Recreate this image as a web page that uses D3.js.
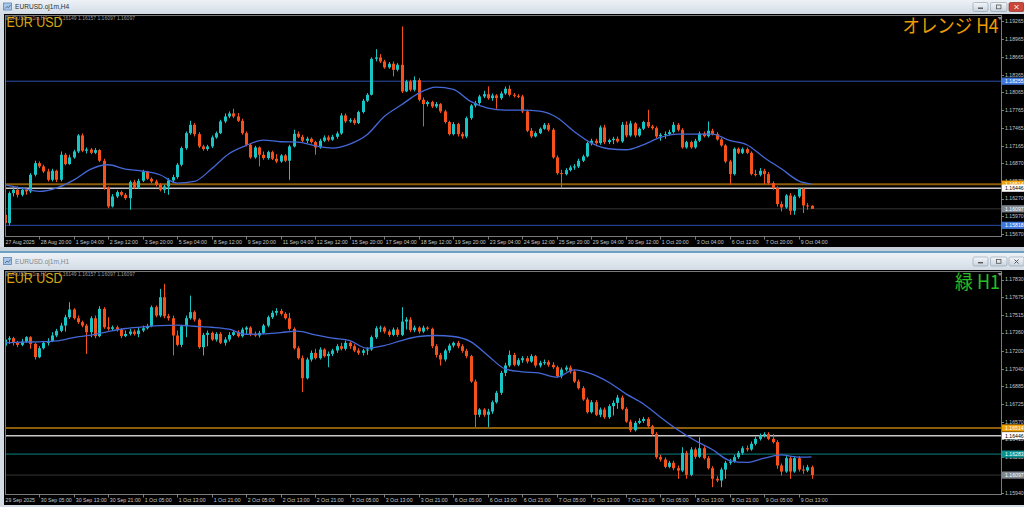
<!DOCTYPE html>
<html><head><meta charset="utf-8">
<script src="https://cdn.jsdelivr.net/npm/d3@7"></script>
<style>html,body{margin:0;padding:0;background:#d3dbe5;overflow:hidden}svg{display:block}</style>
</head><body><svg id="c" width="1024" height="507"></svg>
<script>
// ---------------- DATA: H4 (top) ----------------
const h4Open=[1.15996,1.15855,1.16363,1.16419,1.16334,1.16419,1.16391,1.16673,1.16870,1.16814,1.16729,1.16588,1.16740,1.16588,1.17011,1.16853,1.16966,1.17067,1.17338,1.17079,1.17101,1.17044,1.17090,1.16910,1.16447,1.16137,1.16306,1.16380,1.16334,1.16278,1.16549,1.16459,1.16571,1.16729,1.16605,1.16560,1.16504,1.16419,1.16476,1.16577,1.16634,1.16842,1.17124,1.17377,1.17518,1.17360,1.17152,1.17107,1.17152,1.17304,1.17377,1.17575,1.17659,1.17710,1.17659,1.17586,1.17377,1.17180,1.16966,1.17135,1.17011,1.16955,1.17056,1.16944,1.16898,1.17000,1.16910,1.17152,1.17366,1.17315,1.17248,1.17282,1.17225,1.17135,1.17248,1.17304,1.17265,1.17315,1.17371,1.17676,1.17575,1.17597,1.17547,1.17733,1.17924,1.18025,1.18634,1.18657,1.18589,1.18488,1.18550,1.18448,1.18533,1.18082,1.18251,1.18110,1.18273,1.17941,1.17868,1.17902,1.17828,1.17868,1.17744,1.17564,1.17360,1.17530,1.17360,1.17321,1.17631,1.17845,1.17885,1.17997,1.18036,1.17969,1.18014,1.17969,1.18048,1.18127,1.18025,1.18008,1.17997,1.17744,1.17417,1.17321,1.17377,1.17451,1.17518,1.17434,1.16966,1.16701,1.16684,1.16751,1.16797,1.16814,1.16910,1.16983,1.17208,1.17248,1.17208,1.17473,1.17225,1.17259,1.17282,1.17236,1.17518,1.17338,1.17541,1.17338,1.17451,1.17564,1.17490,1.17462,1.17321,1.17349,1.17360,1.17394,1.17518,1.17434,1.17135,1.17225,1.17135,1.17248,1.17371,1.17326,1.17417,1.17360,1.17270,1.17169,1.16898,1.16684,1.17113,1.17044,1.17107,1.17044,1.16684,1.16673,1.16740,1.16684,1.16532,1.16447,1.16177,1.16120,1.16323,1.16064,1.16306,1.16436,1.16154,1.16149];
const h4High=[1.16025,1.16391,1.16476,1.16476,1.16459,1.16447,1.16701,1.16910,1.16898,1.16842,1.16774,1.16774,1.16757,1.17067,1.17039,1.17011,1.17096,1.17360,1.17371,1.17135,1.17124,1.17124,1.17107,1.16944,1.16476,1.16345,1.16408,1.16402,1.16363,1.16577,1.16588,1.16605,1.16757,1.16740,1.16628,1.16588,1.16532,1.16504,1.16616,1.16673,1.16870,1.17152,1.17405,1.17586,1.17547,1.17394,1.17180,1.17180,1.17338,1.17405,1.17603,1.17710,1.17744,1.17789,1.17716,1.17620,1.17405,1.17208,1.17163,1.17152,1.17067,1.17079,1.17079,1.17022,1.17022,1.17022,1.17180,1.17434,1.17405,1.17349,1.17315,1.17304,1.17248,1.17282,1.17338,1.17338,1.17349,1.17405,1.17716,1.17710,1.17631,1.17631,1.17755,1.17958,1.18054,1.18657,1.18797,1.18713,1.18617,1.18578,1.18589,1.18561,1.19181,1.18279,1.18279,1.18336,1.18307,1.17980,1.17924,1.17924,1.17902,1.17885,1.17772,1.17586,1.17564,1.17552,1.17394,1.17659,1.17868,1.17924,1.18025,1.18093,1.18166,1.18048,1.18036,1.18082,1.18166,1.18183,1.18054,1.18036,1.18025,1.17772,1.17462,1.17405,1.17473,1.17547,1.17547,1.17462,1.17000,1.16757,1.16785,1.16831,1.16853,1.16944,1.17011,1.17236,1.17282,1.17282,1.17507,1.17518,1.17282,1.17315,1.17321,1.17564,1.17575,1.17586,1.17564,1.17473,1.17586,1.17772,1.17518,1.17490,1.17377,1.17405,1.17434,1.17564,1.17547,1.17462,1.17248,1.17248,1.17282,1.17405,1.17405,1.17575,1.17451,1.17394,1.17293,1.17191,1.16927,1.17135,1.17135,1.17135,1.17135,1.17067,1.16757,1.16785,1.16774,1.16718,1.16560,1.16476,1.16222,1.16345,1.16363,1.16334,1.16459,1.16459,1.16194,1.16157];
const h4Low=[1.15799,1.15816,1.16306,1.16289,1.16306,1.16334,1.16363,1.16645,1.16785,1.16701,1.16560,1.16560,1.16549,1.16560,1.16831,1.16842,1.16944,1.17039,1.17056,1.17033,1.17022,1.17022,1.16887,1.16419,1.16109,1.16120,1.16278,1.16306,1.16250,1.16081,1.16436,1.16436,1.16549,1.16588,1.16532,1.16476,1.16391,1.16363,1.16334,1.16549,1.16605,1.16814,1.17096,1.17349,1.17321,1.17124,1.17079,1.17079,1.17124,1.17282,1.17360,1.17547,1.17631,1.17631,1.17564,1.17349,1.17152,1.16944,1.16944,1.16814,1.16927,1.16927,1.16921,1.16870,1.16875,1.16887,1.16588,1.17135,1.17293,1.17225,1.17208,1.17202,1.17011,1.17113,1.17225,1.17236,1.17248,1.17282,1.17349,1.17547,1.17552,1.17518,1.17530,1.17710,1.17902,1.18014,1.18589,1.18561,1.18465,1.18465,1.18336,1.18420,1.18054,1.18071,1.18082,1.18082,1.17913,1.17490,1.17828,1.17800,1.17800,1.17716,1.17541,1.17338,1.17338,1.17321,1.17282,1.17293,1.17603,1.17811,1.17856,1.17969,1.17941,1.17924,1.17789,1.17941,1.18025,1.17997,1.17980,1.17969,1.17716,1.17394,1.17293,1.17304,1.17360,1.17434,1.17405,1.16944,1.16673,1.16447,1.16662,1.16729,1.16757,1.16785,1.16887,1.16966,1.17169,1.17180,1.17180,1.17191,1.17191,1.17191,1.17213,1.17213,1.17304,1.17315,1.17304,1.17315,1.17428,1.17462,1.17434,1.17293,1.17248,1.17282,1.17338,1.17371,1.17405,1.17113,1.17113,1.17113,1.17113,1.17225,1.17304,1.17304,1.17338,1.17248,1.17146,1.16870,1.16504,1.16662,1.17022,1.17022,1.17022,1.16662,1.16645,1.16645,1.16515,1.16504,1.16419,1.16137,1.16053,1.16098,1.15996,1.15996,1.16278,1.16025,1.16081,1.16097];
const h4Close=[1.15855,1.16363,1.16419,1.16334,1.16419,1.16391,1.16673,1.16870,1.16814,1.16729,1.16588,1.16740,1.16588,1.17011,1.16853,1.16966,1.17067,1.17338,1.17079,1.17101,1.17044,1.17090,1.16910,1.16447,1.16137,1.16306,1.16380,1.16334,1.16278,1.16549,1.16459,1.16571,1.16729,1.16605,1.16560,1.16504,1.16419,1.16476,1.16577,1.16634,1.16842,1.17124,1.17377,1.17518,1.17360,1.17152,1.17107,1.17152,1.17304,1.17377,1.17575,1.17659,1.17710,1.17659,1.17586,1.17377,1.17180,1.16966,1.17135,1.17011,1.16955,1.17056,1.16944,1.16898,1.17000,1.16910,1.17152,1.17366,1.17315,1.17248,1.17282,1.17225,1.17135,1.17248,1.17304,1.17265,1.17315,1.17371,1.17676,1.17575,1.17597,1.17547,1.17733,1.17924,1.18025,1.18634,1.18657,1.18589,1.18488,1.18550,1.18448,1.18533,1.18082,1.18251,1.18110,1.18273,1.17941,1.17868,1.17902,1.17828,1.17868,1.17744,1.17564,1.17360,1.17530,1.17360,1.17321,1.17631,1.17845,1.17885,1.17997,1.18036,1.17969,1.18014,1.17969,1.18048,1.18127,1.18025,1.18008,1.17997,1.17744,1.17417,1.17321,1.17377,1.17451,1.17518,1.17434,1.16966,1.16701,1.16684,1.16751,1.16797,1.16814,1.16910,1.16983,1.17208,1.17248,1.17208,1.17473,1.17225,1.17259,1.17282,1.17236,1.17518,1.17338,1.17541,1.17338,1.17451,1.17564,1.17490,1.17462,1.17321,1.17349,1.17360,1.17394,1.17518,1.17434,1.17135,1.17225,1.17135,1.17248,1.17371,1.17326,1.17417,1.17360,1.17270,1.17169,1.16898,1.16684,1.17113,1.17044,1.17107,1.17044,1.16684,1.16673,1.16740,1.16684,1.16532,1.16447,1.16177,1.16120,1.16323,1.16064,1.16306,1.16436,1.16154,1.16149,1.16097];
// moving average read every 4th bar (last sample = last bar)
const h4MA=[1.16504,1.16447,1.16391,1.16447,1.16582,1.16768,1.16842,1.16768,1.16735,1.16673,1.16532,1.16560,1.16774,1.17028,1.17169,1.17259,1.17231,1.17225,1.17163,1.17124,1.17191,1.17349,1.17659,1.17856,1.18054,1.18155,1.18115,1.17913,1.17800,1.17766,1.17766,1.17749,1.17642,1.17405,1.17208,1.17113,1.17096,1.17180,1.17304,1.17360,1.17360,1.17360,1.17253,1.17180,1.16966,1.16774,1.16571,1.16515];
const h4PriceTicks=["1.19265","1.18965","1.18665","1.18365","1.18065","1.17765","1.17465","1.17165","1.16870","1.16570","1.16270","1.15970","1.15670"];
const h4TimeTicks=["27 Aug 2025","28 Aug 20:00","1 Sep 04:00","2 Sep 12:00","3 Sep 20:00","5 Sep 04:00","8 Sep 12:00","9 Sep 20:00","11 Sep 04:00","12 Sep 12:00","15 Sep 20:00","17 Sep 04:00","18 Sep 12:00","19 Sep 20:00","23 Sep 04:00","24 Sep 12:00","25 Sep 20:00","29 Sep 04:00","30 Sep 12:00","1 Oct 20:00","3 Oct 04:00","6 Oct 12:00","7 Oct 20:00","9 Oct 04:00"];
const h4Levels=[1.18255,1.16514,1.16446,1.16097,1.15818];
const h4LevelKinds=["blue","orange","white","bid","blue"];

// ---------------- DATA: H1 (bottom) ----------------
const h1Open=[1.17245,1.17298,1.17310,1.17269,1.17251,1.17280,1.17319,1.17260,1.17142,1.17221,1.17269,1.17286,1.17334,1.17375,1.17422,1.17496,1.17564,1.17487,1.17452,1.17422,1.17363,1.17487,1.17328,1.17570,1.17407,1.17393,1.17407,1.17387,1.17328,1.17348,1.17369,1.17348,1.17378,1.17398,1.17416,1.17585,1.17511,1.17673,1.17505,1.17487,1.17334,1.17251,1.17416,1.17487,1.17541,1.17475,1.17230,1.17339,1.17357,1.17298,1.17348,1.17269,1.17298,1.17339,1.17363,1.17328,1.17387,1.17404,1.17348,1.17334,1.17357,1.17422,1.17496,1.17535,1.17552,1.17526,1.17487,1.17393,1.17221,1.17133,1.16955,1.17121,1.17180,1.17133,1.17210,1.17151,1.17171,1.17201,1.17239,1.17216,1.17269,1.17239,1.17201,1.17180,1.17201,1.17210,1.17319,1.17398,1.17404,1.17369,1.17339,1.17387,1.17339,1.17457,1.17475,1.17381,1.17404,1.17369,1.17404,1.17393,1.17239,1.17162,1.17121,1.17201,1.17245,1.17269,1.17239,1.17198,1.17151,1.16926,1.16631,1.16678,1.16631,1.16660,1.16743,1.16826,1.17003,1.17068,1.17162,1.17074,1.17115,1.17133,1.17103,1.17151,1.17068,1.17092,1.17098,1.17074,1.17053,1.16973,1.17032,1.17050,1.17015,1.16926,1.16867,1.16767,1.16654,1.16743,1.16631,1.16678,1.16610,1.16708,1.16737,1.16784,1.16684,1.16571,1.16495,1.16560,1.16577,1.16595,1.16530,1.16462,1.16256,1.16235,1.16170,1.16206,1.16158,1.16137,1.16294,1.16099,1.16324,1.16259,1.16335,1.16247,1.16158,1.16064,1.16049,1.16146,1.16206,1.16217,1.16256,1.16294,1.16335,1.16324,1.16374,1.16418,1.16448,1.16460,1.16418,1.16389,1.16182,1.16128,1.16247,1.16128,1.16247,1.16146,1.16137,1.16167];
const h1High=[1.17319,1.17328,1.17322,1.17286,1.17304,1.17328,1.17328,1.17269,1.17239,1.17286,1.17310,1.17363,1.17393,1.17446,1.17517,1.17629,1.17576,1.17511,1.17466,1.17437,1.17505,1.17511,1.17594,1.17585,1.17496,1.17422,1.17422,1.17398,1.17378,1.17393,1.17387,1.17407,1.17422,1.17437,1.17600,1.17600,1.17747,1.17792,1.17526,1.17511,1.17378,1.17428,1.17511,1.17688,1.17555,1.17487,1.17357,1.17378,1.17369,1.17363,1.17363,1.17319,1.17363,1.17375,1.17381,1.17404,1.17416,1.17416,1.17369,1.17375,1.17437,1.17511,1.17555,1.17576,1.17570,1.17541,1.17535,1.17407,1.17239,1.17157,1.17139,1.17201,1.17216,1.17230,1.17221,1.17192,1.17216,1.17257,1.17269,1.17289,1.17280,1.17257,1.17221,1.17216,1.17230,1.17334,1.17416,1.17422,1.17416,1.17387,1.17404,1.17407,1.17585,1.17496,1.17496,1.17422,1.17416,1.17422,1.17416,1.17404,1.17257,1.17180,1.17216,1.17263,1.17280,1.17286,1.17257,1.17216,1.17162,1.16944,1.16690,1.16690,1.16684,1.16758,1.16843,1.17020,1.17092,1.17201,1.17180,1.17133,1.17151,1.17151,1.17168,1.17162,1.17110,1.17121,1.17115,1.17098,1.17068,1.17050,1.17068,1.17068,1.17032,1.16944,1.16885,1.16784,1.16761,1.16761,1.16696,1.16696,1.16725,1.16758,1.16808,1.16802,1.16699,1.16589,1.16577,1.16601,1.16613,1.16610,1.16542,1.16477,1.16276,1.16253,1.16223,1.16223,1.16182,1.16344,1.16312,1.16344,1.16341,1.16433,1.16353,1.16265,1.16176,1.16087,1.16164,1.16223,1.16241,1.16276,1.16312,1.16353,1.16359,1.16394,1.16436,1.16465,1.16477,1.16477,1.16462,1.16406,1.16200,1.16265,1.16265,1.16265,1.16265,1.16182,1.16188,1.16182];
const h1Low=[1.17216,1.17260,1.17245,1.17230,1.17239,1.17269,1.17216,1.17121,1.17133,1.17210,1.17245,1.17275,1.17319,1.17363,1.17369,1.17481,1.17475,1.17437,1.17407,1.17171,1.17319,1.17310,1.17319,1.17393,1.17378,1.17378,1.17369,1.17310,1.17319,1.17334,1.17334,1.17319,1.17363,1.17387,1.17407,1.17496,1.17496,1.17487,1.17466,1.17157,1.17239,1.17230,1.17319,1.17475,1.17457,1.17216,1.17157,1.17239,1.17286,1.17280,1.17257,1.17245,1.17280,1.17328,1.17316,1.17316,1.17348,1.17328,1.17322,1.17316,1.17345,1.17407,1.17481,1.17511,1.17511,1.17475,1.17378,1.17210,1.17121,1.16832,1.16944,1.17103,1.17121,1.17121,1.17139,1.17053,1.17151,1.17180,1.17201,1.17201,1.17216,1.17186,1.17162,1.17157,1.17162,1.17198,1.17304,1.17363,1.17351,1.17322,1.17328,1.17322,1.17328,1.17387,1.17363,1.17363,1.17351,1.17357,1.17378,1.17221,1.17139,1.17068,1.17103,1.17180,1.17227,1.17221,1.17180,1.17133,1.16914,1.16522,1.16610,1.16613,1.16522,1.16639,1.16731,1.16808,1.16973,1.17053,1.17062,1.17062,1.17092,1.17086,1.17092,1.17050,1.17050,1.17074,1.17056,1.17038,1.16961,1.16955,1.17015,1.16997,1.16914,1.16855,1.16755,1.16642,1.16642,1.16619,1.16610,1.16595,1.16595,1.16625,1.16684,1.16672,1.16560,1.16477,1.16483,1.16548,1.16560,1.16518,1.16448,1.16241,1.16217,1.16158,1.16158,1.16140,1.16064,1.16123,1.16064,1.16087,1.16241,1.16247,1.16235,1.16146,1.15990,1.16034,1.15990,1.16064,1.16188,1.16206,1.16241,1.16276,1.16306,1.16312,1.16359,1.16403,1.16430,1.16406,1.16377,1.16152,1.16093,1.16117,1.16064,1.16117,1.16128,1.16108,1.16123,1.16064];
const h1Close=[1.17298,1.17310,1.17269,1.17251,1.17280,1.17319,1.17260,1.17142,1.17221,1.17269,1.17286,1.17334,1.17375,1.17422,1.17496,1.17564,1.17487,1.17452,1.17422,1.17363,1.17487,1.17328,1.17570,1.17407,1.17393,1.17407,1.17387,1.17328,1.17348,1.17369,1.17348,1.17378,1.17398,1.17416,1.17585,1.17511,1.17673,1.17505,1.17487,1.17334,1.17251,1.17416,1.17487,1.17541,1.17475,1.17230,1.17339,1.17357,1.17298,1.17348,1.17269,1.17298,1.17339,1.17363,1.17328,1.17387,1.17404,1.17348,1.17334,1.17357,1.17422,1.17496,1.17535,1.17552,1.17526,1.17487,1.17393,1.17221,1.17133,1.16955,1.17121,1.17180,1.17133,1.17210,1.17151,1.17171,1.17201,1.17239,1.17216,1.17269,1.17239,1.17201,1.17180,1.17201,1.17210,1.17319,1.17398,1.17404,1.17369,1.17339,1.17387,1.17339,1.17457,1.17475,1.17381,1.17404,1.17369,1.17404,1.17393,1.17239,1.17162,1.17121,1.17201,1.17245,1.17269,1.17239,1.17198,1.17151,1.16926,1.16631,1.16678,1.16631,1.16660,1.16743,1.16826,1.17003,1.17068,1.17162,1.17074,1.17115,1.17133,1.17103,1.17151,1.17068,1.17092,1.17098,1.17074,1.17053,1.16973,1.17032,1.17050,1.17015,1.16926,1.16867,1.16767,1.16654,1.16743,1.16631,1.16678,1.16610,1.16708,1.16737,1.16784,1.16684,1.16571,1.16495,1.16560,1.16577,1.16595,1.16530,1.16462,1.16256,1.16235,1.16170,1.16206,1.16158,1.16137,1.16294,1.16099,1.16324,1.16259,1.16335,1.16247,1.16158,1.16064,1.16049,1.16146,1.16206,1.16217,1.16256,1.16294,1.16335,1.16324,1.16374,1.16418,1.16448,1.16460,1.16418,1.16389,1.16182,1.16128,1.16247,1.16128,1.16247,1.16146,1.16137,1.16167,1.16097];
const h1MA=[1.17269,1.17275,1.17278,1.17286,1.17316,1.17337,1.17369,1.17396,1.17410,1.17422,1.17425,1.17416,1.17407,1.17390,1.17345,1.17348,1.17360,1.17372,1.17339,1.17310,1.17289,1.17221,1.17245,1.17289,1.17325,1.17334,1.17325,1.17280,1.17157,1.17038,1.17012,1.17000,1.16965,1.17030,1.16994,1.16920,1.16817,1.16729,1.16610,1.16498,1.16403,1.16324,1.16226,1.16209,1.16247,1.16276,1.16256,1.16259];
const h1PriceTicks=["1.17830","1.17675","1.17515","1.17360","1.17200","1.17040","1.16885","1.16725","1.16570","1.16415","1.16255","1.16100","1.15940"];
const h1TimeTicks=["29 Sep 2025","30 Sep 05:00","30 Sep 13:00","30 Sep 21:00","1 Oct 05:00","1 Oct 13:00","1 Oct 21:00","2 Oct 05:00","2 Oct 13:00","2 Oct 21:00","3 Oct 05:00","3 Oct 13:00","3 Oct 21:00","6 Oct 05:00","6 Oct 13:00","6 Oct 21:00","7 Oct 05:00","7 Oct 13:00","7 Oct 21:00","8 Oct 05:00","8 Oct 13:00","8 Oct 21:00","9 Oct 05:00","9 Oct 13:00"];
const h1Levels=[1.16514,1.16446,1.16283,1.16097];
const h1LevelKinds=["orange","white","teal","bid"];
const headerValues="1.16149 1.16157 1.16097 1.16097";

// ---------------- STYLE ----------------
const UP="#19c4c4", DOWN="#f6501b", MA_COLOR="#4468d8";
const LEVEL_STYLE={
  blue:{line:"#2c4daa",w:1,box:"#3f76dc",txt:"#ffffff"},
  orange:{line:"#8c5d0a",w:2,box:"#f0a30c",txt:"#ffffff"},
  white:{line:"#c8c8c8",w:1.4,box:"#ffffff",txt:"#000000"},
  bid:{line:"#353535",w:1,box:"#80868f",txt:"#ffffff"},
  teal:{line:"#0a8282",w:1,box:"#0b9090",txt:"#ffffff"}
};
const MA_STEP=4;
const SMALL="Liberation Sans, Arial, sans-serif";

const svg=d3.select("#c");
const defs=svg.append("defs");
const gr=defs.append("linearGradient").attr("id","tb").attr("x1",0).attr("y1",0).attr("x2",0).attr("y2",1);
gr.append("stop").attr("offset","0%").attr("stop-color","#eef2f7");
gr.append("stop").attr("offset","100%").attr("stop-color","#d2dbe5");
const gb=defs.append("linearGradient").attr("id","btn").attr("x1",0).attr("y1",0).attr("x2",0).attr("y2",1);
gb.append("stop").attr("offset","0%").attr("stop-color","#f3f6fa");
gb.append("stop").attr("offset","100%").attr("stop-color","#c9d3de");

svg.append("rect").attr("width",1024).attr("height",507).attr("fill","#d3dbe5");

function barTimes(startMs, stepH, n){
  const out=[]; let t=startMs;
  while(out.length<n){const d=new Date(t);const wd=d.getUTCDay(); if(wd!==0&&wd!==6) out.push(d); t+=stepH*3600e3;}
  return out;
}
const fmtT=d3.utcFormat("%-d %b %H:%M"), fmtD=d3.utcFormat("%-d %b %Y");

function titleBar(y0,h,title,active){
  svg.append("rect").attr("x",0).attr("y",y0).attr("width",1024).attr("height",h).attr("fill","url(#tb)");
  svg.append("rect").attr("x",3.5).attr("y",y0+h/2-4).attr("width",8).attr("height",7).attr("fill","#a9c6e6").attr("stroke","#5b86b8").attr("stroke-width",0.8);
  svg.append("path").attr("d",`M5,${y0+h/2+1.5} L7,${y0+h/2-0.5} L8.5,${y0+h/2+0.8} L10.5,${y0+h/2-2}`).attr("fill","none").attr("stroke","#2f5f96").attr("stroke-width",0.8);
  svg.append("text").attr("x",15).attr("y",y0+h/2+2.3).attr("font-family",SMALL).attr("font-size",6.6)
    .attr("fill",active?"#2e2e2e":"#808890").text(title);
  const bx=[[973,15],[990.5,16.5],[1009,15]];
  bx.forEach((b,k)=>{
    const red=active&&k===2;
    svg.append("rect").attr("x",b[0]).attr("y",y0+h/2-4.5).attr("width",b[1]).attr("height",9).attr("rx",1.5)
      .attr("fill",red?"#c9483a":"url(#btn)").attr("stroke",red?"#8e2a20":"#9aa7b5").attr("stroke-width",0.7);
    const cx=b[0]+b[1]/2, cy=y0+h/2;
    if(k===0) svg.append("rect").attr("x",cx-2.5).attr("y",cy+0.5).attr("width",5).attr("height",1.4).attr("fill","#555");
    if(k===1) svg.append("rect").attr("x",cx-2.2).attr("y",cy-2).attr("width",4.4).attr("height",3.8).attr("fill","none").attr("stroke","#555").attr("stroke-width",0.8);
    if(k===2) svg.append("path").attr("d",`M${cx-2},${cy-2} L${cx+2},${cy+2} M${cx+2},${cy-2} L${cx-2},${cy+2}`).attr("stroke",red?"#fff":"#555").attr("stroke-width",1);
  });
}

function drawPanel(c){
  const n=c.open.length;
  svg.append("rect").attr("x",4).attr("y",c.bgTop).attr("width",1020).attr("height",c.bgBot-c.bgTop).attr("fill","#000");
  const x=d3.scaleLinear().domain([0,n-1]).range([c.x0,c.xN]);
  const y=d3.scaleLinear().domain(c.domain).range([c.yBot,c.yTop]);
  const cid="clip"+c.id;
  defs.append("clipPath").attr("id",cid).append("rect").attr("x",c.left+0.5).attr("y",c.yTop).attr("width",c.right-c.left-0.5).attr("height",c.yBot-c.yTop);
  const plot=svg.append("g").attr("clip-path",`url(#${cid})`);
  const lv=c.levels.map((v,k)=>({v,s:LEVEL_STYLE[c.kinds[k]]}));
  svg.append("text").attr("x",6).attr("y",c.yTop+4.5).attr("font-family",SMALL).attr("font-size",5).attr("fill","#9a9a9a").text(c.symbol);
  svg.append("text").attr("x",58.5).attr("y",c.yTop+4.5).attr("font-family",SMALL).attr("font-size",5).attr("fill","#9a9a9a").text(headerValues);
  plot.selectAll("line.lvl").data(lv).join("line").attr("x1",c.left).attr("x2",c.right)
    .attr("y1",d=>y(d.v)).attr("y2",d=>y(d.v)).attr("stroke",d=>d.s.line).attr("stroke-width",d=>d.s.w);
  const idx=d3.range(n);
  const col=i=>c.close[i]>=c.open[i]?UP:DOWN;
  plot.selectAll("line.wick").data(idx).join("line")
    .attr("x1",i=>Math.round(x(i))+0.5).attr("x2",i=>Math.round(x(i))+0.5)
    .attr("y1",i=>y(c.high[i])).attr("y2",i=>y(c.low[i])).attr("stroke",col).attr("stroke-width",1);
  plot.selectAll("rect.body").data(idx).join("rect")
    .attr("x",i=>Math.round(x(i))-1).attr("width",3)
    .attr("y",i=>y(Math.max(c.open[i],c.close[i])))
    .attr("height",i=>Math.max(1,Math.abs(y(c.open[i])-y(c.close[i])))).attr("fill",col);
  const pts=c.ma.map((v,k)=>[Math.min(k*MA_STEP,n-1),v]);
  plot.append("path").datum(pts).attr("d",d3.line().x(d=>x(d[0])).y(d=>y(d[1])).curve(d3.curveMonotoneX))
    .attr("fill","none").attr("stroke",MA_COLOR).attr("stroke-width",1.3);
  svg.append("path").attr("d",`M${c.left},${c.yBot}V${c.yTop}H${c.right}V${c.yBot}H${c.left}`).attr("fill","none").attr("stroke","#7a7a7a").attr("stroke-width",1).attr("shape-rendering","crispEdges");
  svg.append("path").attr("d",`M${c.right-4},${c.yTop+1.5}h5l-2.5,3z`).attr("fill","#8a8a8a");
  // price axis (labels fully hidden under a level box are skipped)
  const pt=c.priceTicks.map(s=>({s,v:+s})).filter(d=>!lv.some(l=>Math.abs(y(l.v)-y(d.v))<2));
  svg.selectAll(null).data(pt).join("line").attr("x1",c.right).attr("x2",c.right+2.5)
    .attr("y1",d=>Math.round(y(d.v))+0.5).attr("y2",d=>Math.round(y(d.v))+0.5).attr("stroke","#9a9a9a").attr("stroke-width",0.8);
  svg.selectAll(null).data(pt).join("text").attr("x",c.right+3.5).attr("y",d=>y(d.v)+1.9)
    .attr("font-family",SMALL).attr("font-size",5.2).attr("fill","#c4c4c4").text(d=>d.s);
  const lg=svg.selectAll(null).data(lv).join("g");
  lg.append("rect").attr("x",c.right+0.5).attr("y",d=>y(d.v)-3.6).attr("width",23).attr("height",7.2).attr("fill",d=>d.s.box);
  lg.append("text").attr("x",c.right+3.5).attr("y",d=>y(d.v)+1.9).attr("font-family",SMALL).attr("font-size",5.2)
    .attr("fill",d=>d.s.txt).text(d=>d.v.toFixed(5));
  const times=barTimes(c.start,c.stepH,n);
  const tt=c.timeTicks.map(s=>({s,i:times.findIndex((t,i)=>(i===0?fmtD(t):fmtT(t))===s)})).filter(d=>d.i>=0);
  svg.selectAll(null).data(tt.filter(d=>d.i>0)).join("line")
    .attr("x1",d=>Math.round(x(d.i))+0.5).attr("x2",d=>Math.round(x(d.i))+0.5)
    .attr("y1",c.yBot).attr("y2",c.yBot+3).attr("stroke","#9a9a9a").attr("stroke-width",0.8);
  svg.selectAll(null).data(tt).join("text")
    .attr("x",d=>d.i===0?c.left+0.5:Math.round(x(d.i))+1.8).attr("y",c.yBot+7.6)
    .attr("font-family",SMALL).attr("font-size",5.2).attr("fill","#c8c8c8").text(d=>d.s);
  svg.append("text").attr("x",6.5).attr("y",c.yTop+11.2).attr("font-family","Liberation Sans, Arial, sans-serif")
    .attr("font-size",14.5).attr("fill","#d6a514").attr("textLength",56).attr("lengthAdjust","spacingAndGlyphs").text("EUR USD");
  svg.append("text").attr("x",c.tfX1).attr("y",c.yTop+17.5).attr("text-anchor","end").attr("font-family","Noto Sans CJK JP, sans-serif")
    .attr("font-size",19.5).attr("fill",c.tfColor).attr("textLength",c.tfLen).attr("lengthAdjust","spacingAndGlyphs").text(c.tfText);
}

titleBar(0,14,"EURUSD.oj1m,H4",true);
svg.append("rect").attr("x",0).attr("y",247).attr("width",1024).attr("height",6).attr("fill","#c6d0db");
svg.append("line").attr("x1",0).attr("x2",1024).attr("y1",252).attr("y2",252).attr("stroke","#4f8fbf").attr("stroke-width",1.6);
titleBar(253,17,"EURUSD.oj1m,H1",false);

drawPanel({id:"t",open:h4Open,high:h4High,low:h4Low,close:h4Close,ma:h4MA,levels:h4Levels,kinds:h4LevelKinds,
  priceTicks:h4PriceTicks,timeTicks:h4TimeTicks,start:Date.UTC(2025,7,27,12),stepH:4,symbol:"EURUSD.oj1m,H4",
  bgTop:14,bgBot:247,left:5,right:1001.5,yTop:15.5,yBot:236.5,x0:4.5,xN:811.5,domain:[1.15629,1.19366],
  tfText:"オレンジ H4",tfColor:"#eb9c06",tfX1:998.5,tfLen:96});
drawPanel({id:"b",open:h1Open,high:h1High,low:h1Low,close:h1Close,ma:h1MA,levels:h1Levels,kinds:h1LevelKinds,
  priceTicks:h1PriceTicks,timeTicks:h1TimeTicks,start:Date.UTC(2025,8,29,21),stepH:1,symbol:"EURUSD.oj1m,H1",
  bgTop:270,bgBot:505,left:5,right:1001.5,yTop:271.5,yBot:494.5,x0:4.5,xN:811.5,domain:[1.15925,1.17901],
  tfText:"緑 H1",tfColor:"#25c025",tfX1:1000,tfLen:45});
</script>
</body></html>
